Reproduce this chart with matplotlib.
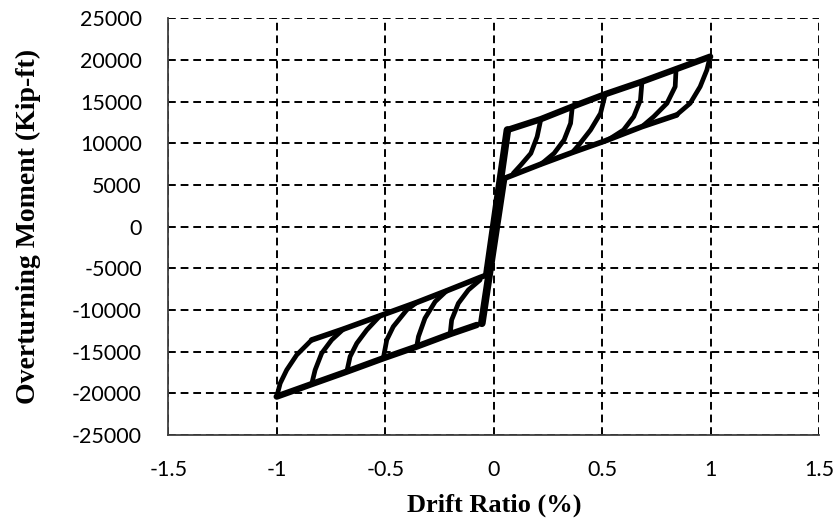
import matplotlib.pyplot as plt

# envelope lines (drift %, kip-ft)
pos_up_x = [0.063, 0.217, 0.362, 0.514, 0.683, 0.840, 0.997]
pos_up_y = [11600, 12900, 14400, 15900, 17400, 18900, 20400]
pos_lo_x = [0.040, 0.217, 0.362, 0.514, 0.683, 0.843]
pos_lo_y = [5700, 7500, 8900, 10300, 12000, 13400]
neg_lo_x = [-0.078, -0.201, -0.355, -0.509, -0.677, -0.839, -1.0]
neg_lo_y = [-11800, -12900, -14400, -15800, -17400, -18900, -20400]
neg_up_x = [-0.032, -0.063, -0.217, -0.355, -0.524, -0.693, -0.839]
neg_up_y = [-5800, -6100, -7700, -9100, -10700, -12300, -13600]

# steep elastic branches through the origin
steep_x = [[-0.032, 0.063], [0.045, -0.055]]
steep_y = [[-5800, 11600], [5700, -11600]]

# unloading curves, positive side (from peak down to lower line)
pos_loops_x = [
    [0.217, 0.200, 0.171, 0.125, 0.090],
    [0.362, 0.354, 0.324, 0.278, 0.232, 0.217],
    [0.514, 0.492, 0.446, 0.392, 0.362],
    [0.683, 0.676, 0.645, 0.598, 0.538, 0.525],
    [0.840, 0.836, 0.798, 0.737, 0.683],
    [0.997, 0.982, 0.951, 0.905, 0.851, 0.843],
]
pos_loops_y = [
    [12900, 10800, 8800, 7400, 6400],
    [14400, 12400, 10400, 8800, 7800, 7500],
    [15900, 13600, 11600, 9800, 8900],
    [17400, 15200, 13200, 11600, 10600, 10400],
    [18900, 16800, 14800, 13200, 12000],
    [20400, 18800, 16800, 14800, 13600, 13400],
]

# unloading curves, negative side (from peak up to upper line)
neg_loops_x = [
    [-1.0, -0.984, -0.954, -0.908, -0.839],
    [-0.839, -0.823, -0.793, -0.747, -0.693],
    [-0.677, -0.662, -0.631, -0.585, -0.524],
    [-0.509, -0.493, -0.463, -0.401, -0.355],
    [-0.355, -0.347, -0.317, -0.270, -0.217],
    [-0.201, -0.194, -0.163, -0.117, -0.063],
]
neg_loops_y = [
    [-20400, -18800, -17200, -15400, -13600],
    [-18900, -17200, -15200, -13600, -12300],
    [-17400, -15600, -14000, -12400, -10700],
    [-15800, -13600, -12000, -10000, -9100],
    [-14400, -13200, -11000, -9000, -7700],
    [-12900, -11200, -9200, -7600, -6400],
]

x_ticks = [-1.5, -1, -0.5, 0, 0.5, 1, 1.5]
x_labels = ['-1.5', '-1', '-0.5', '0', '0.5', '1', '1.5']
y_ticks = [-25000, -20000, -15000, -10000, -5000, 0, 5000, 10000, 15000, 20000, 25000]
y_labels = [str(v) for v in y_ticks]

fig = plt.figure(figsize=(8.39, 5.24), dpi=100)
ax = fig.add_axes([0.2005, 0.170, 0.776, 0.795])

kw = dict(color='black', solid_joinstyle='round', solid_capstyle='round')
ax.plot(pos_up_x, pos_up_y, lw=4.6, **kw)
ax.plot(pos_lo_x, pos_lo_y, lw=4, **kw)
ax.plot(neg_lo_x, neg_lo_y, lw=4.6, **kw)
ax.plot(neg_up_x, neg_up_y, lw=4, **kw)
for sx, sy in zip(steep_x, steep_y):
    ax.plot(sx, sy, lw=5.5, **kw)
for lx, ly in zip(pos_loops_x, pos_loops_y):
    ax.plot(lx, ly, lw=3.4, **kw)
for lx, ly in zip(neg_loops_x, neg_loops_y):
    ax.plot(lx, ly, lw=3.4, **kw)

ax.set_xlim(-1.5, 1.5)
ax.set_ylim(-25000, 25000)
ax.set_xticks(x_ticks)
ax.set_xticklabels(x_labels)
ax.set_yticks(y_ticks)
ax.set_yticklabels(y_labels)
ax.grid(True, color='black', linestyle=(0, (4, 2.5)), linewidth=1.4)
ax.set_axisbelow(True)
for s in ['top', 'right']:
    ax.spines[s].set_visible(False)
for s in ['left', 'bottom']:
    ax.spines[s].set_color('#404040')
    ax.spines[s].set_linewidth(1.3)

ax.tick_params(axis='both', length=0, labelsize=15.5)
ax.tick_params(axis='y', pad=19)
ax.tick_params(axis='x', pad=18)
for lab in ax.get_xticklabels() + ax.get_yticklabels():
    lab.set_family('Lato')

ax.set_xlabel('Drift Ratio (%)', family='Liberation Serif', fontweight='bold', fontsize=19, labelpad=10)
ax.set_ylabel('Overturning Moment (Kip-ft)', family='Liberation Serif', fontweight='bold', fontsize=20, labelpad=22)

plt.savefig('out.png', dpi=100)
